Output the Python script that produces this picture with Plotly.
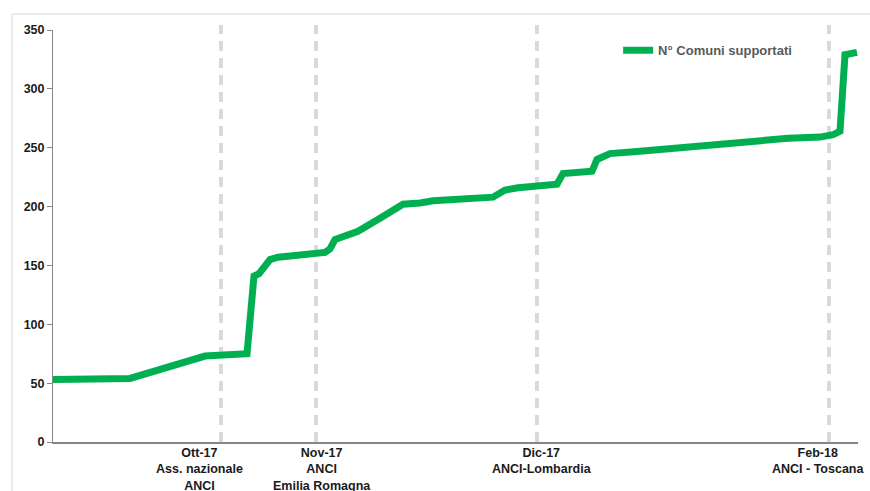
import plotly.graph_objects as go

# Numero di Comuni supportati lungo le rilevazioni successive
rilevazione = [0, 15.4, 30.4, 38.8, 40.2, 41.2, 43.4, 45, 54.4, 55.4, 56.4, 61,
               65.4, 68, 70, 73.4, 76, 88, 90.4, 93, 100.8, 102, 107.8, 108.8,
               111.4, 117.4, 129.4, 137.4, 143.4, 147, 153.4, 156, 157.4, 158.4, 160.8]
comuni = [53, 54, 73, 75, 141, 143, 155, 157, 161, 164, 172, 179,
          190, 196, 202, 203, 205, 208, 214, 216, 219, 228, 230, 240,
          245, 247, 252, 254, 256.5, 258, 259, 261, 264, 329, 331]

# Eventi (accordi con ANCI) segnati con linee tratteggiate
eventi_x = [33.6, 52.6, 96.8, 155.2]
etichette_x = [29.2, 53.8, 97.8, 153]
etichette = ["Ott-17<br>Ass. nazionale<br>ANCI",
             "Nov-17<br>ANCI<br>Emilia Romagna",
             "Dic-17<br>ANCI-Lombardia",
             "Feb-18<br>ANCI - Toscana"]

y_ticks = [0, 50, 100, 150, 200, 250, 300, 350]

FONT = "Liberation Sans"
VERDE = "#00B050"

fig = go.Figure()

fig.add_trace(go.Scatter(
    x=rilevazione, y=comuni, mode="lines",
    name="<b>N° Comuni supportati</b>",
    line=dict(color=VERDE, width=7, shape="linear"),
))

shapes = []
# cornice esterna del grafico
shapes.append(dict(type="rect", xref="paper", yref="paper",
                   x0=-0.0509, x1=1.5, y0=-1.0, y1=1.0388,
                   line=dict(color="#d9d9d9", width=1), layer="below"))
for ex in eventi_x:
    shapes.append(dict(type="line", xref="x", yref="paper",
                       x0=ex, x1=ex, y0=0, y1=1.012,
                       line=dict(color="#d9d9d9", width=4, dash="10px,7px"),
                       layer="below"))

annotations = []
for lx, txt in zip(etichette_x, etichette):
    annotations.append(dict(x=lx, xref="x", y=-0.004, yref="paper",
                            text="<b>" + txt + "</b>", showarrow=False,
                            xanchor="center", yanchor="top", align="center",
                            font=dict(family=FONT, size=12.5, color="#1a1a1a")))

fig.update_layout(
    width=870, height=491,
    margin=dict(l=53, r=12, t=30, b=49),
    paper_bgcolor="white", plot_bgcolor="white",
    showlegend=True,
    legend=dict(x=0.702, y=0.951, xanchor="left", yanchor="middle",
                bgcolor="rgba(0,0,0,0)",
                font=dict(family=FONT, size=13, color="#595959")),
    shapes=shapes,
    annotations=annotations,
    xaxis=dict(range=[0, 161], showgrid=False, zeroline=False,
               showticklabels=False, showline=True, linecolor="#868686",
               linewidth=2, ticks=""),
    yaxis=dict(range=[0, 350], tickvals=y_ticks,
               ticktext=["<b>%d</b>" % v for v in y_ticks],
               showgrid=False, zeroline=False, showline=True,
               linecolor="#868686", linewidth=1, ticks="outside",
               ticklen=5, tickcolor="#868686",
               tickfont=dict(family=FONT, size=12.5, color="#1a1a1a")),
)

fig.write_html("out.html")
